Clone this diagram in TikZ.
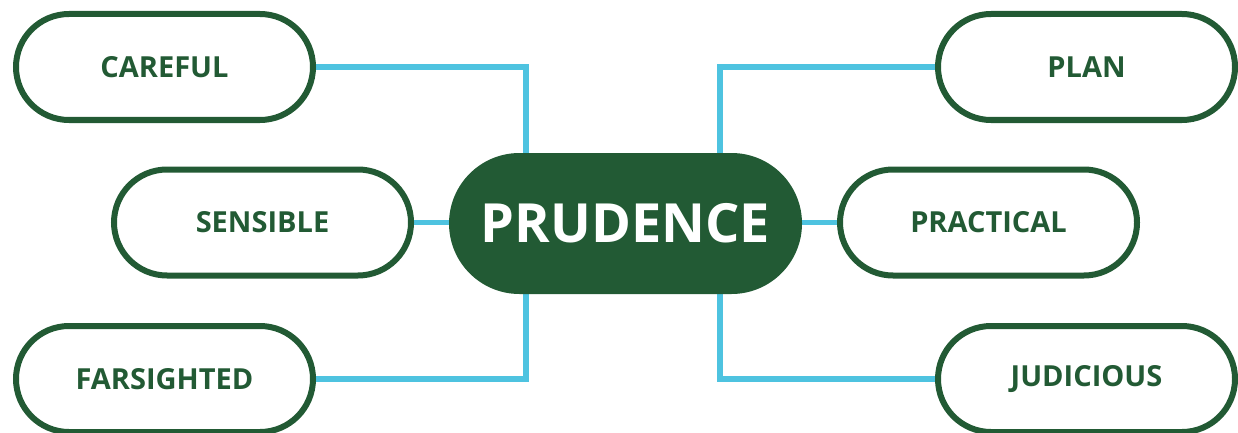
\documentclass[tikz,border=0pt]{standalone}
\usepackage{fontspec}
\setmainfont{Open Sans}
\usetikzlibrary{backgrounds}
\definecolor{dgreen}{HTML}{225A34}
\definecolor{lblue}{HTML}{4EC3E0}
\begin{document}
\begin{tikzpicture}[x=1pt,y=-1pt,
  leaf/.style={draw=dgreen, line width=6pt, fill=white, rectangle,
    rounded corners=53pt, minimum width=297pt, minimum height=106pt,
    inner sep=0pt, text=dgreen, font=\fontsize{29}{34}\selectfont\bfseries},
  hub/.style={fill=dgreen, rectangle, rounded corners=70.5pt,
    minimum width=353pt, minimum height=141pt, inner sep=0pt,
    text=white, font=\fontsize{54}{60}\selectfont\bfseries},
  conn/.style={draw=lblue, line width=5.5pt}]
\useasboundingbox (0,0) rectangle (1238,433);
\node[hub] (prud) at (625.5,223.5) {PRUDENCE};
\node[leaf] (careful) at (164.5,67) {CAREFUL};
\node[leaf] (sensible) at (262.5,222.5) {SENSIBLE};
\node[leaf] (far) at (164.5,379) {FARSIGHTED};
\node[leaf] (plan) at (1086.5,67) {PLAN};
\node[leaf] (prac) at (988.5,222.5) {PRACTICAL};
\node[leaf] (jud) at (1086.5,379) {JUDICIOUS};
\coordinate (lt) at (526,200);
\coordinate (lb) at (526,250);
\coordinate (rt) at (720,200);
\coordinate (rb) at (720,250);
\begin{scope}[on background layer]
\draw[conn] (careful.east) -| (lt);
\draw[conn] (far.east) -| (lb);
\draw[conn] (plan.west) -| (rt);
\draw[conn] (jud.west) -| (rb);
\draw[conn] (sensible.east) -- (sensible.east -| prud.center);
\draw[conn] (prac.west) -- (prac.west -| prud.center);
\end{scope}
\end{tikzpicture}
\end{document}
